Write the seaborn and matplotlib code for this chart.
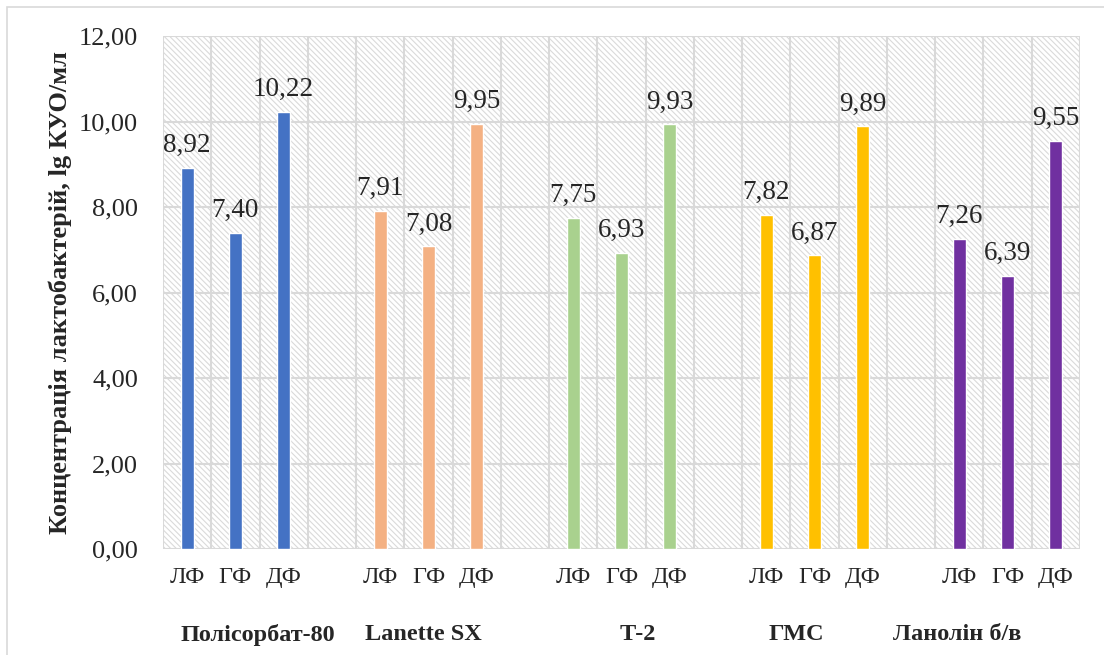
import matplotlib
matplotlib.use('Agg')
import matplotlib.pyplot as plt
import pandas as pd
import seaborn as sns
from matplotlib.patches import Rectangle
from matplotlib.ticker import FuncFormatter

groups = ['Полісорбат-80', 'Lanette SX', 'Т-2', 'ГМС', 'Ланолін б/в']
forms = ['ЛФ', 'ГФ', 'ДФ']
polysorbate = [8.92, 7.40, 10.22]
lanette = [7.91, 7.08, 9.95]
t2 = [7.75, 6.93, 9.93]
gms = [7.82, 6.87, 9.89]
lanolin = [7.26, 6.39, 9.55]
colors = ['#4472C4', '#F4B183', '#A9D18E', '#FFC000', '#7030A0']

sns.set_theme(style='white')
plt.rcParams['font.family'] = ['Liberation Serif', 'DejaVu Serif']
plt.rcParams['hatch.linewidth'] = 0.8

# one slot per bar, one empty slot between groups
rows = []
order = []
tick_labels = []
for gi, (group, values) in enumerate(zip(groups, [polysorbate, lanette, t2, gms, lanolin])):
    if gi > 0:
        order.append(f'gap{gi}')
        tick_labels.append('')
    for form, value in zip(forms, values):
        slot = f'{group}|{form}'
        order.append(slot)
        tick_labels.append(form)
        rows.append({'slot': slot, 'group': group, 'value': value})
df = pd.DataFrame(rows)

fig = plt.figure(figsize=(11.04, 6.55), dpi=100)
ax = fig.add_axes([163 / 1104, 1 - 549 / 655, (1080 - 163) / 1104, (549 - 36) / 655])

sns.barplot(data=df, x='slot', y='value', hue='group', order=order, hue_order=groups,
            palette=colors, dodge=False, width=0.27, legend=False, ax=ax, zorder=3,
            saturation=1)

n = len(order)
ax.set_xlim(-0.5, n - 0.5)
ax.set_ylim(0, 12)
ax.set_yticks(range(0, 13, 2))
ax.yaxis.set_major_formatter(FuncFormatter(lambda v, _: f'{v:.2f}'.replace('.', ',')))

# hatched plot background
ax.add_patch(Rectangle((0, 0), 1, 1, transform=ax.transAxes, fill=False,
                       edgecolor='#DADADA', linewidth=0, hatch='\\\\\\\\\\\\', zorder=0))

for x in range(n + 1):
    ax.axvline(x - 0.5, color='#D9D9D9', linewidth=1.5, zorder=1)
for y in range(0, 13, 2):
    ax.axhline(y, color='#D9D9D9', linewidth=1.5, zorder=1)
for spine in ax.spines.values():
    spine.set_visible(False)

for container in ax.containers:
    ax.bar_label(container, labels=[f'{b.get_height():.2f}'.replace('.', ',') for b in container],
                 padding=7, fontsize=19.5)

ax.set_xticks(range(n))
ax.set_xticklabels(tick_labels, fontsize=17.5)
ax.tick_params(axis='x', length=0, pad=13)
ax.tick_params(axis='y', length=0, pad=18, labelsize=19)
ax.set_xlabel('')
ax.set_ylabel('Концентрація лактобактерій, lg КУО/мл', fontsize=19, fontweight='bold', labelpad=5)

label_x = [1.47, 4.89, 9.34, 12.62, 15.95]
for group, xpos in zip(groups, label_x):
    ax.text(xpos, -2.0, group, ha='center', va='center', fontsize=17.5, fontweight='bold')

# chart frame
fig.add_artist(Rectangle((7 / 1104, -0.1), 1.2, 1 - 7 / 655 + 0.1, transform=fig.transFigure,
                         fill=False, edgecolor='#D9D9D9', linewidth=1.2))

fig.savefig('out.png', dpi=100)
